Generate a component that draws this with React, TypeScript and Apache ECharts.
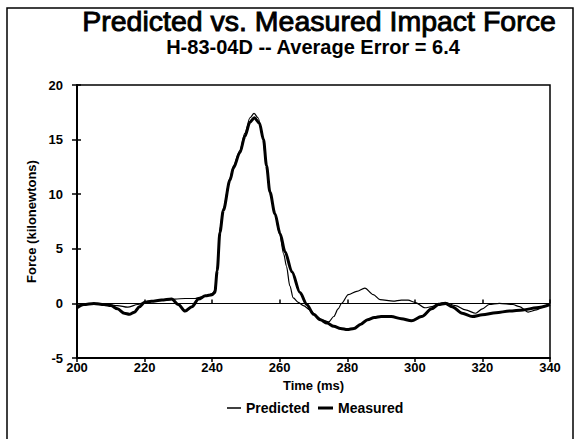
import React, { useEffect, useRef } from "react";
import * as echarts from "echarts";

const predictedTime = [
  200, 203, 206, 209, 212, 215, 218, 220, 223, 226, 229, 232, 235, 237, 238.5, 240,
  240.8, 241.5, 242.3, 243.3, 245.3, 246.3, 248.2, 249.7, 251.2, 252.4, 253.6, 255,
  256, 257, 258.5, 260, 261.2, 262, 263, 264, 265.5, 267, 269, 271, 272.5, 274.5, 276,
  277.3, 278.3, 280.3, 282.8, 285.2, 287.7, 289.7, 293.6, 296, 298, 300, 303, 305, 307,
  309, 312, 315, 318, 320, 322, 325, 329, 331, 333.5, 336, 338, 340,
];
const predictedForce = [
  -0.3, -0.05, 0, -0.1, -0.2, -0.35, -0.1, 0.1, 0.2, 0.3, 0.4, 0.45, 0.45, 0.6, 0.7, 0.9,
  1.2, 3.2, 6.8, 8.7, 11.5, 12.6, 14.0, 15.6, 17.0, 17.4, 17.0, 15.2,
  12.8, 10.4, 8.3, 6.3, 4.5, 3.4, 1.6, 0.5, 0.1, -0.2, -0.6, -1.2, -1.5, -1.7, -1.2,
  -0.5, 0, 0.8, 1.1, 1.4, 0.8, 0.35, 0.2, 0.3, 0.3, 0.1, -0.4, -0.3, 0,
  0.1, -0.2, -0.6, -0.9, -0.5, -0.1, 0, -0.1, -0.3, -0.8, -0.6, -0.3, 0,
];

const measuredTime = [
  200, 202, 205, 208, 210, 212, 214, 215.5, 217, 218.5, 220, 222, 225, 228, 230, 232,
  234, 236, 238, 240, 240.8, 241.5, 242.3, 243.3, 245.3, 246.3, 248.2, 249.7, 251.2,
  252.5, 254, 255.2, 256.1, 257.1, 258.6, 260.1, 261.6, 263.6, 266, 268, 270, 272, 274,
  276, 278, 280, 282, 284, 286, 288, 290, 293, 296, 299, 302, 305, 307, 309, 311, 314,
  317, 320, 324, 328, 332, 336, 340,
];
const measuredForce = [
  -0.4, -0.1, 0, -0.1, -0.2, -0.5, -0.9, -1.0, -0.8, -0.3, 0.1, 0.2, 0.3, 0.4, -0.1, -0.7,
  -0.3, 0.4, 0.7, 0.8, 1.0, 3.0, 6.5, 8.5, 11.3, 12.4, 13.8, 15.3, 16.6,
  17.0, 16.5, 15.0, 12.6, 10.2, 8.2, 6.4, 4.7, 2.9, 1.0, -0.1, -1.0, -1.5, -1.8,
  -2.1, -2.3, -2.4, -2.3, -1.9, -1.5, -1.3, -1.2, -1.2, -1.4, -1.6, -1.2, -0.5, -0.1, 0, -0.3, -0.9,
  -1.2, -1.05, -0.85, -0.7, -0.6, -0.4, -0.1,
];

const seriesNames = ["Predicted", "Measured"];
const titleText = "Predicted vs. Measured Impact Force";
const subtitleText = "H-83-04D -- Average Error = 6.4";
const xName = "Time (ms)";
const yName = "Force (kilonewtons)";

const FONT = "'Liberation Sans', Arial, Helvetica, sans-serif";

export default function App() {
  const ref = useRef<HTMLDivElement>(null);

  useEffect(() => {
    const chart = echarts.init(ref.current!, null, { renderer: "svg" });
    const labelStyle = { color: "#000", fontFamily: FONT, fontWeight: "bold", fontSize: 13 };
    const legendText = { color: "#000", fontFamily: FONT, fontWeight: "bold", fontSize: 14 };
    chart.setOption({
      animation: false,
      backgroundColor: "#fff",
      graphic: [
        {
          type: "rect",
          shape: { x: 7, y: 8, width: 566, height: 450 },
          style: { fill: "none", stroke: "#000", lineWidth: 1.5 },
          silent: true,
        },
        {
          type: "text",
          x: 319,
          y: 21,
          style: {
            text: titleText,
            font: `normal 28.5px ${FONT}`,
            fill: "#000",
            stroke: "#000",
            lineWidth: 0.9,
            textAlign: "center",
            textVerticalAlign: "middle",
          },
        },
        {
          type: "text",
          x: 313,
          y: 47,
          style: {
            text: subtitleText,
            font: `bold 20px ${FONT}`,
            fill: "#000",
            textAlign: "center",
            textVerticalAlign: "middle",
          },
        },
      ],
      legend: [
        {
          data: [{ name: seriesNames[0], icon: "rect" }],
          top: 401,
          left: 227,
          padding: 0,
          itemWidth: 14,
          itemHeight: 1.5,
          textStyle: legendText,
        },
        {
          data: [{ name: seriesNames[1], icon: "rect" }],
          top: 401,
          left: 318,
          padding: 0,
          itemWidth: 15,
          itemHeight: 3,
          textStyle: legendText,
        },
      ],
      grid: {
        left: 77,
        right: 26,
        top: 85,
        bottom: 81,
        show: true,
        borderColor: "#000",
        borderWidth: 1.5,
        backgroundColor: "transparent",
      },
      xAxis: [
        {
          type: "value",
          position: "bottom",
          min: 200,
          max: 340,
          interval: 20,
          name: xName,
          nameLocation: "middle",
          nameGap: 18,
          nameTextStyle: { ...labelStyle },
          axisLine: { show: true, onZero: false, lineStyle: { color: "#000", width: 2 } },
          axisTick: { show: true, inside: false, length: 4, lineStyle: { color: "#000", width: 1.5 } },
          axisLabel: { ...labelStyle, margin: 3 },
          splitLine: { show: false },
        },
        {
          type: "value",
          position: "bottom",
          min: 200,
          max: 340,
          interval: 20,
          axisLine: { show: false },
          axisTick: { show: true, inside: true, length: 4, lineStyle: { color: "#000", width: 1.5 } },
          axisLabel: { show: false },
          splitLine: { show: false },
        },
      ],
      yAxis: [
        {
          type: "value",
          position: "left",
          min: -5,
          max: 20,
          interval: 5,
          name: yName,
          nameLocation: "middle",
          nameGap: 33,
          nameTextStyle: { ...labelStyle },
          axisLine: { show: true, onZero: false, lineStyle: { color: "#000", width: 2 } },
          axisTick: { show: true, inside: false, length: 5, lineStyle: { color: "#000", width: 1.5 } },
          axisLabel: { ...labelStyle, margin: 14 },
          splitLine: { show: false },
        },
        {
          type: "value",
          position: "left",
          min: -5,
          max: 20,
          interval: 5,
          axisLine: { show: false },
          axisTick: { show: true, inside: true, length: 4, lineStyle: { color: "#000", width: 1.5 } },
          axisLabel: { show: false },
          splitLine: { show: false },
        },
      ],
      series: [
        {
          name: seriesNames[0],
          type: "line",
          xAxisIndex: 0,
          yAxisIndex: 0,
          data: predictedTime.map((t, i) => [t, predictedForce[i]]),
          symbol: "none",
          showSymbol: false,
          smooth: 0.3,
          smoothMonotone: "x",
          lineStyle: { color: "#000", width: 1.2 },
          itemStyle: { color: "#000" },
          z: 3,
          markLine: {
            silent: true,
            symbol: ["none", "none"],
            label: { show: false },
            lineStyle: { color: "#000", width: 1.2, type: "solid" },
            data: [{ yAxis: 0 }],
          },
        },
        {
          name: seriesNames[1],
          type: "line",
          xAxisIndex: 0,
          yAxisIndex: 0,
          data: measuredTime.map((t, i) => [t, measuredForce[i]]),
          symbol: "none",
          showSymbol: false,
          smooth: 0.3,
          smoothMonotone: "x",
          lineStyle: { color: "#000", width: 3 },
          itemStyle: { color: "#000" },
          z: 4,
        },
      ],
    });
    return () => chart.dispose();
  }, []);

  return (
    <div
      ref={ref}
      style={{ position: "fixed", left: 0, top: 0, width: 576, height: 439, background: "#fff" }}
    />
  );
}
